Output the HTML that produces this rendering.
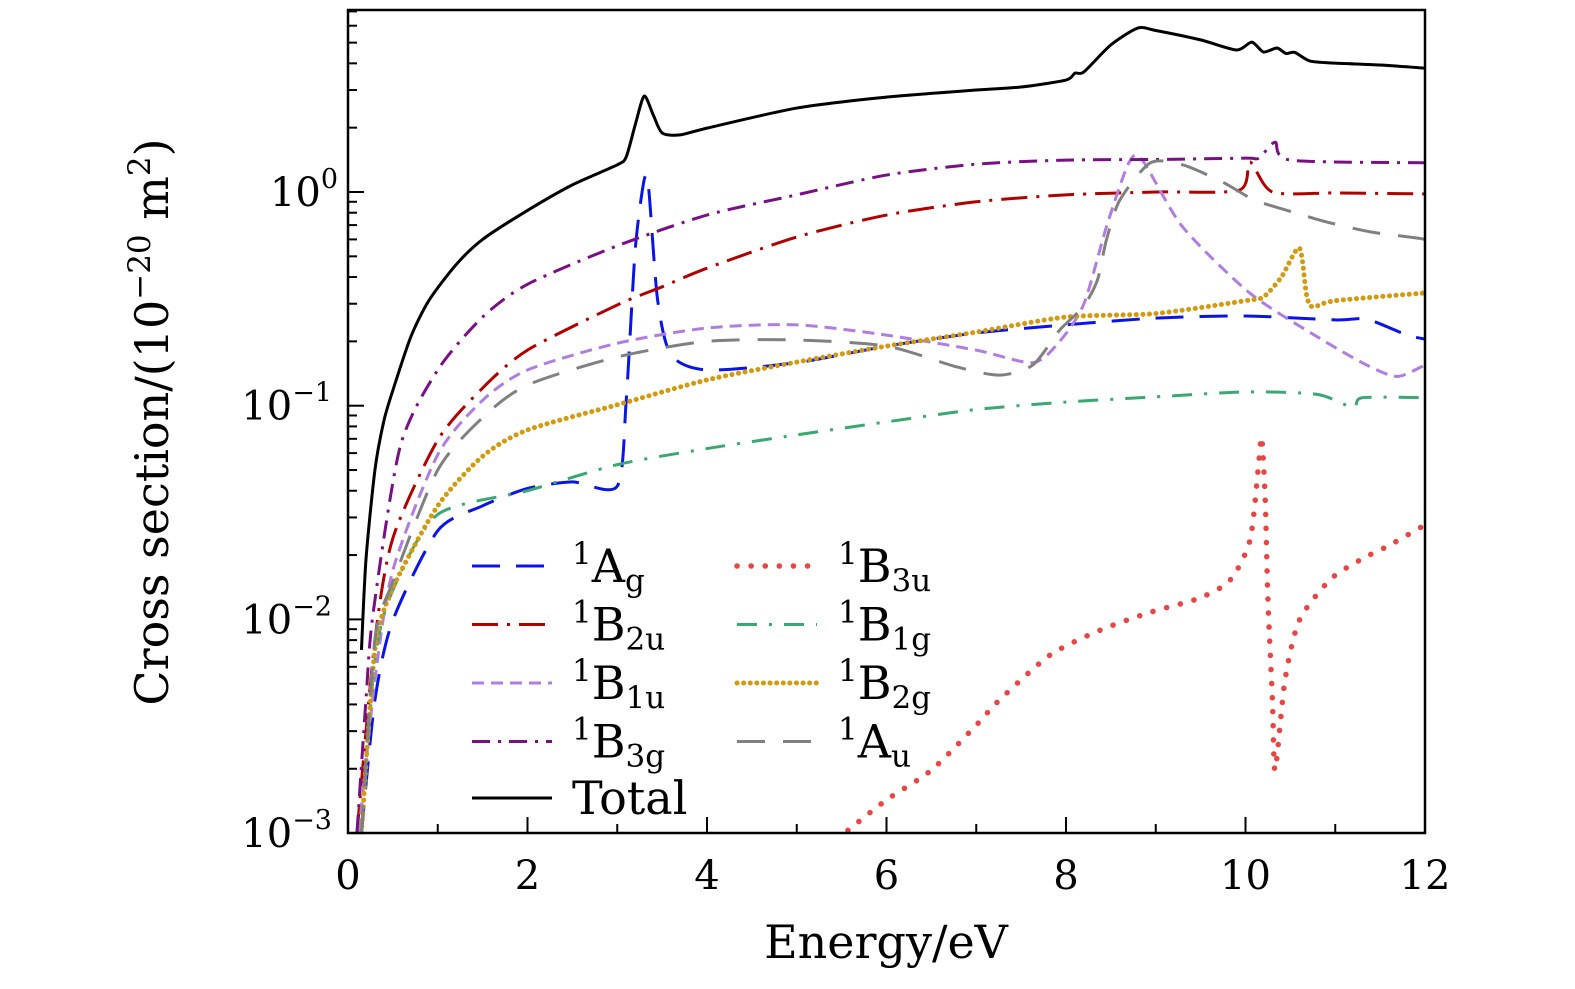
<!DOCTYPE html>
<html><head><meta charset="utf-8"><style>
body{margin:0;background:#fff;}
svg text{font-family:"DejaVu Serif","Liberation Serif",serif;fill:#000;}
</style></head><body>
<svg id="chart" width="1575" height="984" xmlns="http://www.w3.org/2000/svg">
<g id="plot"></g>
<g id="axes"></g>
<g id="legend"></g>
</svg>
<script>
const xTicks=[0,2,4,6,8,10,12];
const yDecades=[-3,-2,-1,0];
const totalX=[0.15,0.2,0.3,0.4,0.5,0.7,0.9,1.2,1.5,2,2.5,3,3.1,3.2,3.3,3.4,3.5,3.7,4,5,6,7,7.5,8,8.1,8.2,8.5,8.8,9,9.5,9.9,10.07,10.2,10.35,10.45,10.55,10.72,11,11.5,12];
const totalY=[0.0072,0.019,0.05,0.085,0.118,0.21,0.31,0.455,0.6,0.82,1.08,1.34,1.46,2.06,2.81,2.3,1.89,1.85,1.99,2.47,2.78,3.0,3.1,3.34,3.6,3.65,4.88,5.85,5.7,5.15,4.62,5.03,4.52,4.72,4.45,4.5,4.1,4.01,3.93,3.8];
const agX=[0.15,0.3,0.5,1,1.5,2,2.5,3,3.1,3.2,3.3,3.35,3.45,3.6,4,5,6,7,8,9,10,11,11.35,11.8,12];
const agY=[0.001,0.0042,0.0099,0.026,0.034,0.041,0.044,0.042,0.106,0.535,1.14,1.04,0.312,0.173,0.147,0.159,0.19,0.219,0.239,0.257,0.263,0.252,0.254,0.214,0.205];
const b2uX=[0.1,0.3,0.5,1,1.5,2,3,3.5,4,5,6,7,8,9,9.93,10.05,10.3,11,12];
const b2uY=[0.001,0.008,0.024,0.069,0.121,0.182,0.296,0.36,0.44,0.616,0.78,0.9,0.97,1.0,1.02,1.38,1.0,0.99,0.98];
const b1uX=[0.12,0.3,0.5,1,1.5,2,3,4,5,6,7,7.63,7.93,8.2,8.45,8.7,8.85,9.3,10.05,10.8,11.35,11.69,12];
const b1uY=[0.001,0.0052,0.017,0.059,0.106,0.147,0.196,0.231,0.239,0.214,0.182,0.159,0.2,0.3,0.686,1.37,1.41,0.686,0.336,0.21,0.155,0.137,0.155];
const b3gX=[0.1,0.2,0.28,0.58,1,1.5,2,3,4,5,6,7,8,9,10,10.15,10.33,10.5,12];
const b3gY=[0.001,0.0042,0.0107,0.064,0.147,0.26,0.37,0.56,0.78,0.97,1.2,1.35,1.41,1.42,1.44,1.44,1.71,1.41,1.37];
const b3uX=[5.57,6.0,6.5,7.0,7.26,7.82,8.38,8.94,9.49,9.83,10.05,10.14,10.18,10.22,10.25,10.3,10.33,10.44,10.6,10.94,11.28,11.61,12];
const b3uY=[0.00103,0.00143,0.00197,0.0032,0.0042,0.0068,0.0089,0.0108,0.0126,0.0153,0.0235,0.05,0.071,0.036,0.0123,0.0042,0.00197,0.0052,0.0099,0.0153,0.019,0.0223,0.0277];
const b1gX=[0.15,0.3,0.5,1,2,3,4,5,6,7,8,9,10,10.8,11.2,11.3,12];
const b1gY=[0.001,0.0065,0.0137,0.031,0.04,0.053,0.063,0.073,0.084,0.096,0.104,0.11,0.116,0.113,0.098,0.109,0.109];
const b2gX=[0.15,0.3,0.5,1,1.5,2,3,4,5,6,7,8,9,10,10.2,10.4,10.6,10.68,10.75,11,12];
const b2gY=[0.001,0.0072,0.014,0.034,0.058,0.077,0.101,0.132,0.16,0.19,0.221,0.26,0.27,0.31,0.323,0.4,0.547,0.33,0.29,0.31,0.337];
const auX=[0.15,0.3,0.5,1,1.5,2,3,4,5,6,6.78,7.26,7.63,7.93,8.19,8.35,8.45,8.6,8.94,9.3,9.75,10.1,10.55,10.95,11.4,11.9,12];
const auY=[0.001,0.008,0.015,0.05,0.088,0.125,0.169,0.2,0.203,0.19,0.152,0.139,0.155,0.226,0.29,0.387,0.596,0.917,1.37,1.34,1.11,0.917,0.8,0.716,0.65,0.61,0.6];

const NS="http://www.w3.org/2000/svg";
const X0=348,X1=1425,Y0=10,Y1=833,YT=192,DEC=213.7;
const xs=v=>X0+(v/12)*(X1-X0);
const ys=v=>YT-Math.log10(v)*DEC;
function mk(tag,attrs,parent){const e=document.createElementNS(NS,tag);for(const k in attrs)e.setAttribute(k,attrs[k]);parent.appendChild(e);return e;}
function pathD(xa,ya){
  const p=xa.map((x,i)=>[xs(x),Math.min(Y1,ys(ya[i]))]);
  let d=`M${p[0][0]},${p[0][1]}`;
  for(let i=0;i<p.length-1;i++){
    const a=p[i-1]||p[i],b=p[i],c=p[i+1],e=p[i+2]||c;
    const c1=[b[0]+(c[0]-a[0])/8,b[1]+(c[1]-a[1])/8];
    const c2=[c[0]-(e[0]-b[0])/8,c[1]-(e[1]-b[1])/8];
    d+=` C${c1[0]},${c1[1]} ${c2[0]},${c2[1]} ${c[0]},${c[1]}`;
  }
  return d;
}
const plot=document.getElementById('plot');
mk('clipPath',{id:'clip'},plot).appendChild(document.createElementNS(NS,'rect'));
const cr=plot.querySelector('clipPath rect');cr.setAttribute('x',X0);cr.setAttribute('y',Y0);cr.setAttribute('width',X1-X0);cr.setAttribute('height',Y1-Y0);
const series=[
 ['series-1ag',agX,agY,'#0a14e6','28,16',3,'butt'],
 ['series-1b2u',b2uX,b2uY,'#b00000','26,9,3,9',3,'butt'],
 ['series-1b1u',b1uX,b1uY,'#b07ee0','12,7',3,'butt'],
 ['series-1b3g',b3gX,b3gY,'#7a0f85','18,8,3,8',3,'butt'],
 ['series-1b3u',b3uX,b3uY,'#e84545','0.1,14',5.5,'round'],
 ['series-1b1g',b1gX,b1gY,'#3aa870','20,12,3,12',3,'butt'],
 ['series-1b2g',b2gX,b2gY,'#d19a10','0.1,6.5',5,'round'],
 ['series-1au',auX,auY,'#808080','28,18',3,'butt'],
 ['series-total',totalX,totalY,'#000','none',3,'butt']
];
const g=mk('g',{'clip-path':'url(#clip)'},plot);
series.forEach(s=>{
  const el=mk('path',{d:pathD(s[1],s[2]),fill:'none',stroke:s[3],'stroke-width':s[5],'stroke-dasharray':s[4],'stroke-linecap':s[6],'stroke-linejoin':'round'},g);
  
  
});
const ax=document.getElementById('axes');
const frame=mk('rect',{x:X0,y:Y0,width:X1-X0,height:Y1-Y0,fill:'none',stroke:'#000','stroke-width':2.5},ax);


for(let v=0;v<=12;v++){
  const major=v%2===0;
  mk('line',{x1:xs(v),x2:xs(v),y1:Y1,y2:Y1-(major?16:9),stroke:'#000','stroke-width':2},ax);
}
xTicks.forEach(v=>{
  const t=mk('text',{x:xs(v),y:889,'font-size':40,'text-anchor':'middle'},ax);
  t.textContent=v;
  
  
});
yDecades.forEach(d=>{
  const y=ys(Math.pow(10,d));
  mk('line',{x1:X0,x2:X0+16,y1:y,y2:y,stroke:'#000','stroke-width':2},ax);
  for(let m=2;m<=9;m++){
    const yy=ys(m*Math.pow(10,d));
    if(yy>=Y0)mk('line',{x1:X0,x2:X0+9,y1:yy,y2:yy,stroke:'#000','stroke-width':2},ax);
  }
  const t=mk('text',{x:d===0?338:332,y:y+14,'font-size':40,'text-anchor':'end'},ax);
  t.innerHTML='10<tspan dy="-18" font-size="27">'+(d===0?'0':'\u2212'+(-d))+'</tspan>';
  
  
});
const xl=mk('text',{x:886,y:958,'font-size':46,'text-anchor':'middle'},ax);
xl.textContent='Energy/eV';


const yl=mk('text',{x:0,y:0,'font-size':46,'text-anchor':'middle',transform:'translate(168,422) rotate(-90)'},ax);
yl.innerHTML='Cross section/(10<tspan dy="-18" font-size="31">\u221220</tspan><tspan dy="18"> m</tspan><tspan dy="-18" font-size="31">2</tspan><tspan dy="18">)</tspan>';


const lg=document.getElementById('legend');
const legItems=[
 [0,0,'A','g'],[0,1,'B','2u'],[0,2,'B','1u'],[0,3,'B','3g'],[0,4,'Total',''],
 [1,0,'B','3u'],[1,1,'B','1g'],[1,2,'B','2g'],[1,3,'A','u']
];
const legSeries=[0,1,2,3,8,4,5,6,7];
legItems.forEach((it,i)=>{
  const s=series[legSeries[i]];
  const lx=it[0]?737:472, tx=it[0]?838:572, y=566+it[1]*58.5-(it[1]===4?2:0);
  const ent=mk('g',{},lg);
  
  
  mk('line',{x1:lx,x2:lx+80,y1:y,y2:y,stroke:s[3],'stroke-width':s[5],'stroke-dasharray':s[4],'stroke-linecap':s[6]},ent);
  const t=mk('text',{x:tx,y:y+16,'font-size':46},ent);
  if(it[2]==='Total'){t.textContent='Total';}
  else t.innerHTML='<tspan dy="-18" font-size="31">1</tspan><tspan dy="18">'+it[2]+'</tspan><tspan dy="9" font-size="31">'+it[3]+'</tspan>';
});
</script>
</body></html>
